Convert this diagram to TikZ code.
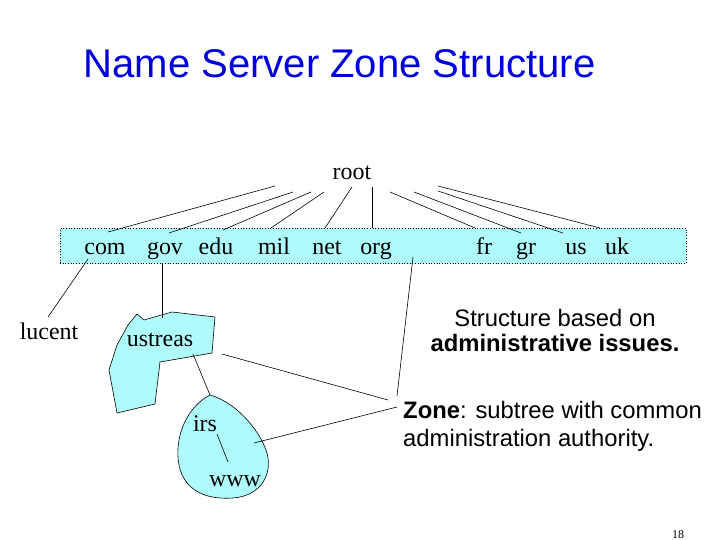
\documentclass[tikz,border=0pt]{standalone}
\usepackage{fontspec}
\setmainfont{Liberation Serif}
\setsansfont{Liberation Sans}
\definecolor{zonefill}{RGB}{175,250,250}
\definecolor{titleblue}{RGB}{0,0,220}
\begin{document}
\begin{tikzpicture}[x=1bp,y=-1bp,
  lbl/.style={font=\fontsize{24}{28}\selectfont, anchor=base, inner sep=0pt},
  side/.style={font=\sffamily\fontsize{23.9}{28}\selectfont, inner sep=0pt},
  link/.style={line width=0.6pt},
  zone/.style={fill=zonefill, draw=black, line width=0.6pt}]
\useasboundingbox (0,0) rectangle (720,540);
% title
\node[font=\sffamily\fontsize{40.2}{46}\selectfont, text=titleblue, anchor=base, inner sep=0pt] (title) at (339.5,78) {Name Server Zone Structure};
% top-level zone box
\node[fill=zonefill, draw=black, dotted, line width=0.7pt, minimum width=626bp, minimum height=35bp, inner sep=0pt] (tld) at (373,246) {};
% labels
\node[lbl] (root) at (352,180) {root};
\node[lbl] (com) at (105,255) {com};
\node[lbl] (gov) at (165,255) {gov};
\node[lbl] (edu) at (216,255) {edu};
\node[lbl] (mil) at (274,255) {mil};
\node[lbl] (net) at (327,255) {net};
\node[lbl] (org) at (376,255) {org};
\node[lbl] (fr) at (484,255) {fr};
\node[lbl] (gr) at (526,255) {gr};
\node[lbl] (us) at (576,255) {us};
\node[lbl] (uk) at (617,255) {uk};
% zones
\draw[zone] (137,314) -- (144,320) -- (172,312) -- (215,317) -- (212,353) -- (160,362) -- (155,404) -- (117,413) -- (109,370) -- (117,345) -- (128,325) -- cycle;
\draw[zone] (210,395) .. controls (235,402) and (258,428) .. (266,450)
  .. controls (274,472) and (262,496) .. (233,498)
  .. controls (205,500) and (184,490) .. (179,465)
  .. controls (174,440) and (185,408) .. (210,395) -- cycle;
\node[lbl] (lucent) at (49,339) {lucent};
\node[lbl] (ustreas) at (160,346) {ustreas};
\node[lbl] (irs) at (205,431) {irs};
\node[lbl] (www) at (235,486) {www};
% side texts
\node[side, anchor=base] (s1) at (555,326) {Structure based on};
\node[side, anchor=base] (s2) at (555,351) {\bfseries administrative issues.};
\node[side, anchor=base west] (z1) at (403,418) {{\bfseries Zone}: subtree with common};
\node[side, anchor=base west] (z2) at (403,446) {administration authority.};
\node[font=\fontsize{12}{14}\selectfont, anchor=base, inner sep=0pt] (page) at (678,538) {18};
% root links
\coordinate (r1) at (275,186); \coordinate (e1) at (108,232);
\coordinate (r2) at (293,192); \coordinate (e2) at (169,233);
\coordinate (r3) at (311,192); \coordinate (e3) at (223,230);
\coordinate (r4) at (324,192); \coordinate (e4) at (271,228);
\coordinate (r5) at (352,187); \coordinate (e5) at (325,228);
\coordinate (r6) at (372,187); \coordinate (e6) at (372,228);
\coordinate (r7) at (390,192); \coordinate (e7) at (475,228);
\coordinate (r8) at (414,192); \coordinate (e8) at (521,233);
\coordinate (r9) at (438,191); \coordinate (e9) at (563,233);
\coordinate (r10) at (438,186); \coordinate (e10) at (600,228);
\foreach \i in {1,...,10} {\draw[link] (r\i) -- (e\i);}
% lower links
\coordinate (comb) at (88,259); \coordinate (lucentt) at (48,317);
\draw[link] (comb) -- (lucentt);
\coordinate (govb) at (162,264); \coordinate (ustt) at (162,318);
\draw[link] (govb) -- (ustt);
\coordinate (ustb) at (193,354); \coordinate (irst) at (210,395);
\draw[link] (ustb) -- (irst);
\coordinate (irsb) at (217,434); \coordinate (wwwt) at (228,462);
\draw[link] (irsb) -- (wwwt);
\coordinate (boxz) at (413,257); \coordinate (zoneA) at (397,396);
\draw[link] (boxz) -- (zoneA);
\coordinate (ustz) at (222,354); \coordinate (zoneB) at (388,400);
\draw[link] (ustz) -- (zoneB);
\coordinate (irsz) at (254,443); \coordinate (zoneC) at (397,407);
\draw[link] (irsz) -- (zoneC);
\end{tikzpicture}
\end{document}
